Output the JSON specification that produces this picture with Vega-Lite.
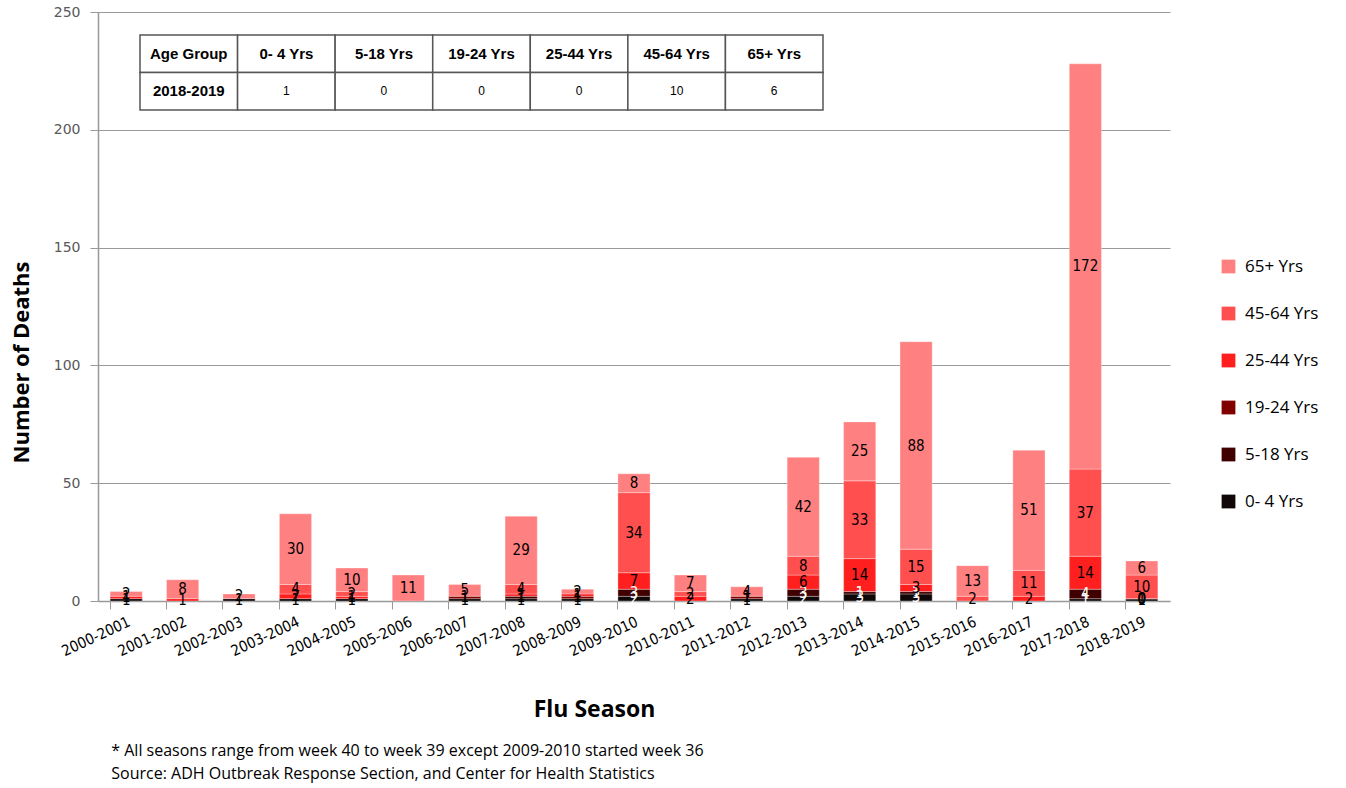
{
  "$schema": "https://vega.github.io/schema/vega-lite/v6.json",
  "autosize": "none",
  "width": 1072,
  "height": 589,
  "padding": {"left": 98, "top": 12, "right": 176, "bottom": 187},
  "background": "white",
  "config": {"view": {"stroke": null}},
  "title": {
    "text": ["* All seasons range from week 40 to week 39 except 2009-2010 started week 36", "Source: ADH Outbreak Response Section,  and Center for Health Statistics"],
    "orient": "bottom", "anchor": "start", "dx": 101, "offset": 21,
    "font": "Open Sans", "fontSize": 16, "fontWeight": "normal", "color": "#000", "lineHeight": 23
  },
  "datasets": {
    "deaths": [
      {"season": "2000-2001", "group": "0- 4 Yrs", "deaths": 1},
      {"season": "2000-2001", "group": "25-44 Yrs", "deaths": 1},
      {"season": "2000-2001", "group": "65+ Yrs", "deaths": 2},
      {"season": "2001-2002", "group": "25-44 Yrs", "deaths": 1},
      {"season": "2001-2002", "group": "65+ Yrs", "deaths": 8},
      {"season": "2002-2003", "group": "0- 4 Yrs", "deaths": 1},
      {"season": "2002-2003", "group": "65+ Yrs", "deaths": 2},
      {"season": "2003-2004", "group": "0- 4 Yrs", "deaths": 1},
      {"season": "2003-2004", "group": "25-44 Yrs", "deaths": 2},
      {"season": "2003-2004", "group": "45-64 Yrs", "deaths": 4},
      {"season": "2003-2004", "group": "65+ Yrs", "deaths": 30},
      {"season": "2004-2005", "group": "0- 4 Yrs", "deaths": 1},
      {"season": "2004-2005", "group": "25-44 Yrs", "deaths": 1},
      {"season": "2004-2005", "group": "45-64 Yrs", "deaths": 2},
      {"season": "2004-2005", "group": "65+ Yrs", "deaths": 10},
      {"season": "2005-2006", "group": "65+ Yrs", "deaths": 11},
      {"season": "2006-2007", "group": "0- 4 Yrs", "deaths": 1},
      {"season": "2006-2007", "group": "19-24 Yrs", "deaths": 1},
      {"season": "2006-2007", "group": "65+ Yrs", "deaths": 5},
      {"season": "2007-2008", "group": "0- 4 Yrs", "deaths": 1},
      {"season": "2007-2008", "group": "5-18 Yrs", "deaths": 1},
      {"season": "2007-2008", "group": "25-44 Yrs", "deaths": 1},
      {"season": "2007-2008", "group": "45-64 Yrs", "deaths": 4},
      {"season": "2007-2008", "group": "65+ Yrs", "deaths": 29},
      {"season": "2008-2009", "group": "0- 4 Yrs", "deaths": 1},
      {"season": "2008-2009", "group": "19-24 Yrs", "deaths": 1},
      {"season": "2008-2009", "group": "25-44 Yrs", "deaths": 1},
      {"season": "2008-2009", "group": "65+ Yrs", "deaths": 2},
      {"season": "2009-2010", "group": "0- 4 Yrs", "deaths": 2},
      {"season": "2009-2010", "group": "5-18 Yrs", "deaths": 3},
      {"season": "2009-2010", "group": "25-44 Yrs", "deaths": 7},
      {"season": "2009-2010", "group": "45-64 Yrs", "deaths": 34},
      {"season": "2009-2010", "group": "65+ Yrs", "deaths": 8},
      {"season": "2010-2011", "group": "25-44 Yrs", "deaths": 2},
      {"season": "2010-2011", "group": "45-64 Yrs", "deaths": 2},
      {"season": "2010-2011", "group": "65+ Yrs", "deaths": 7},
      {"season": "2011-2012", "group": "0- 4 Yrs", "deaths": 1},
      {"season": "2011-2012", "group": "19-24 Yrs", "deaths": 1},
      {"season": "2011-2012", "group": "65+ Yrs", "deaths": 4},
      {"season": "2012-2013", "group": "0- 4 Yrs", "deaths": 2},
      {"season": "2012-2013", "group": "5-18 Yrs", "deaths": 3},
      {"season": "2012-2013", "group": "25-44 Yrs", "deaths": 6},
      {"season": "2012-2013", "group": "45-64 Yrs", "deaths": 8},
      {"season": "2012-2013", "group": "65+ Yrs", "deaths": 42},
      {"season": "2013-2014", "group": "0- 4 Yrs", "deaths": 3},
      {"season": "2013-2014", "group": "5-18 Yrs", "deaths": 1},
      {"season": "2013-2014", "group": "25-44 Yrs", "deaths": 14},
      {"season": "2013-2014", "group": "45-64 Yrs", "deaths": 33},
      {"season": "2013-2014", "group": "65+ Yrs", "deaths": 25},
      {"season": "2014-2015", "group": "0- 4 Yrs", "deaths": 3},
      {"season": "2014-2015", "group": "5-18 Yrs", "deaths": 1},
      {"season": "2014-2015", "group": "25-44 Yrs", "deaths": 3},
      {"season": "2014-2015", "group": "45-64 Yrs", "deaths": 15},
      {"season": "2014-2015", "group": "65+ Yrs", "deaths": 88},
      {"season": "2015-2016", "group": "45-64 Yrs", "deaths": 2},
      {"season": "2015-2016", "group": "65+ Yrs", "deaths": 13},
      {"season": "2016-2017", "group": "25-44 Yrs", "deaths": 2},
      {"season": "2016-2017", "group": "45-64 Yrs", "deaths": 11},
      {"season": "2016-2017", "group": "65+ Yrs", "deaths": 51},
      {"season": "2017-2018", "group": "0- 4 Yrs", "deaths": 1},
      {"season": "2017-2018", "group": "5-18 Yrs", "deaths": 4},
      {"season": "2017-2018", "group": "25-44 Yrs", "deaths": 14},
      {"season": "2017-2018", "group": "45-64 Yrs", "deaths": 37},
      {"season": "2017-2018", "group": "65+ Yrs", "deaths": 172},
      {"season": "2018-2019", "group": "0- 4 Yrs", "deaths": 1},
      {"season": "2018-2019", "group": "5-18 Yrs", "deaths": 0},
      {"season": "2018-2019", "group": "19-24 Yrs", "deaths": 0},
      {"season": "2018-2019", "group": "25-44 Yrs", "deaths": 0},
      {"season": "2018-2019", "group": "45-64 Yrs", "deaths": 10},
      {"season": "2018-2019", "group": "65+ Yrs", "deaths": 6}
    ],
    "table": [
      {"row": "header", "col": "Age Group", "text": "Age Group"},
      {"row": "header", "col": "0- 4 Yrs", "text": "0- 4 Yrs"},
      {"row": "header", "col": "5-18 Yrs", "text": "5-18 Yrs"},
      {"row": "header", "col": "19-24 Yrs", "text": "19-24 Yrs"},
      {"row": "header", "col": "25-44 Yrs", "text": "25-44 Yrs"},
      {"row": "header", "col": "45-64 Yrs", "text": "45-64 Yrs"},
      {"row": "header", "col": "65+ Yrs", "text": "65+ Yrs"},
      {"row": "2018-2019", "col": "Age Group", "text": "2018-2019"},
      {"row": "2018-2019", "col": "0- 4 Yrs", "text": "1"},
      {"row": "2018-2019", "col": "5-18 Yrs", "text": "0"},
      {"row": "2018-2019", "col": "19-24 Yrs", "text": "0"},
      {"row": "2018-2019", "col": "25-44 Yrs", "text": "0"},
      {"row": "2018-2019", "col": "45-64 Yrs", "text": "10"},
      {"row": "2018-2019", "col": "65+ Yrs", "text": "6"}
    ]
  },
  "resolve": {"scale": {"x": "independent", "y": "independent"}},
  "layer": [
    {
      "data": {"name": "deaths"},
      "transform": [
        {"calculate": "indexof(['0- 4 Yrs','5-18 Yrs','19-24 Yrs','25-44 Yrs','45-64 Yrs','65+ Yrs'], datum.group)", "as": "k"}
      ],
      "mark": {"type": "bar", "stroke": "white", "strokeWidth": 0.5, "strokeOpacity": 0.6},
      "encoding": {
        "x": {
          "field": "season", "type": "nominal", "sort": null,
          "scale": {"paddingInner": 0.43, "paddingOuter": 0.215},
          "axis": {
            "title": "Flu Season", "titleFont": "Open Sans", "titleFontSize": 23, "titleFontWeight": "bold", "titleColor": "#000",
            "titlePadding": 40, "titleX": 496,
            "labelAngle": -25, "labelFont": "Liberation Sans Narrow, DejaVu Sans Condensed, sans-serif", "labelFontSize": 15, "labelColor": "#000",
            "labelAlign": "right", "labelBaseline": "top", "labelPadding": 5,
            "bandPosition": 0, "tickSize": 8, "tickColor": "#999", "domainColor": "#999", "domainWidth": 1.5, "grid": false
          }
        },
        "y": {
          "aggregate": "sum", "field": "deaths", "type": "quantitative", "stack": "zero",
          "scale": {"domain": [0, 250], "nice": false},
          "axis": {
            "title": "Number of Deaths", "titleFont": "Open Sans", "titleFontSize": 22, "titleFontWeight": "bold", "titleColor": "#000", "titlePadding": 20,
            "titleY": 350,
            "values": [0, 50, 100, 150, 200, 250],
            "labelFont": "DejaVu Sans", "labelFontSize": 14, "labelColor": "#595959", "labelPadding": 10,
            "tickSize": 8, "tickColor": "#999", "domainColor": "#999", "domainWidth": 1.5,
            "grid": true, "gridColor": "#999", "gridWidth": 1.2
          }
        },
        "color": {
          "field": "group", "type": "nominal",
          "scale": {
            "domain": ["65+ Yrs", "45-64 Yrs", "25-44 Yrs", "19-24 Yrs", "5-18 Yrs", "0- 4 Yrs"],
            "range": ["#ff8080", "#ff4f4f", "#ff1f1f", "#800000", "#400000", "#100808"]
          },
          "legend": {
            "title": null, "orient": "none", "legendX": 1122, "legendY": 246,
            "symbolType": "square", "symbolSize": 190, "symbolStrokeWidth": 0,
            "labelFont": "Open Sans", "labelFontSize": 17, "labelColor": "#000", "labelOffset": 8,
            "rowPadding": 29
          }
        },
        "order": {"field": "k", "type": "quantitative", "sort": "ascending"}
      }
    },
    {
      "data": {"name": "deaths"},
      "transform": [
        {"calculate": "indexof(['0- 4 Yrs','5-18 Yrs','19-24 Yrs','25-44 Yrs','45-64 Yrs','65+ Yrs'], datum.group)", "as": "k"},
        {"stack": "deaths", "groupby": ["season"], "sort": [{"field": "k", "order": "ascending"}], "as": ["y0", "y1"]},
        {"calculate": "(datum.y0 + datum.y1) / 2", "as": "ymid"}
      ],
      "mark": {"type": "text", "font": "Liberation Sans Narrow, DejaVu Sans Condensed, sans-serif", "fontSize": 15, "baseline": "middle", "align": "center"},
      "encoding": {
        "x": {"field": "season", "type": "nominal", "sort": null, "scale": {"paddingInner": 0.43, "paddingOuter": 0.215}, "axis": null},
        "y": {"field": "ymid", "type": "quantitative", "scale": {"domain": [0, 250], "nice": false}, "axis": null},
        "text": {"field": "deaths", "type": "quantitative"},
        "color": {
          "condition": {"test": "datum.k <= 2 && indexof(['2009-2010','2012-2013','2013-2014','2014-2015','2017-2018'], datum.season) >= 0", "value": "white"},
          "value": "black"
        }
      }
    },
    {
      "data": {"name": "table"},
      "mark": {"type": "rect", "fill": "white", "stroke": "#555", "strokeWidth": 1.5},
      "encoding": {
        "x": {"field": "col", "type": "nominal", "sort": null, "scale": {"domain": ["Age Group", "0- 4 Yrs", "5-18 Yrs", "19-24 Yrs", "25-44 Yrs", "45-64 Yrs", "65+ Yrs"], "paddingInner": 0, "paddingOuter": 0, "range": [42, 725]}, "axis": null},
        "y": {"field": "row", "type": "nominal", "sort": null, "scale": {"domain": ["header", "2018-2019"], "paddingInner": 0, "paddingOuter": 0, "range": [23, 98]}, "axis": null}
      }
    },
    {
      "data": {"name": "table"},
      "transform": [{"filter": "datum.row == 'header' || datum.col == 'Age Group'"}],
      "mark": {"type": "text", "font": "Liberation Sans", "fontSize": 15, "fontWeight": "bold", "color": "#000", "align": "center", "baseline": "middle"},
      "encoding": {
        "x": {"field": "col", "type": "nominal", "sort": null, "scale": {"domain": ["Age Group", "0- 4 Yrs", "5-18 Yrs", "19-24 Yrs", "25-44 Yrs", "45-64 Yrs", "65+ Yrs"], "paddingInner": 0, "paddingOuter": 0, "range": [42, 725]}, "axis": null},
        "y": {"field": "row", "type": "nominal", "sort": null, "scale": {"domain": ["header", "2018-2019"], "paddingInner": 0, "paddingOuter": 0, "range": [23, 98]}, "axis": null},
        "text": {"field": "text"}
      }
    },
    {
      "data": {"name": "table"},
      "transform": [{"filter": "datum.row != 'header' && datum.col != 'Age Group'"}],
      "mark": {"type": "text", "font": "Liberation Sans", "fontSize": 12, "color": "#000", "align": "center", "baseline": "middle"},
      "encoding": {
        "x": {"field": "col", "type": "nominal", "sort": null, "scale": {"domain": ["Age Group", "0- 4 Yrs", "5-18 Yrs", "19-24 Yrs", "25-44 Yrs", "45-64 Yrs", "65+ Yrs"], "paddingInner": 0, "paddingOuter": 0, "range": [42, 725]}, "axis": null},
        "y": {"field": "row", "type": "nominal", "sort": null, "scale": {"domain": ["header", "2018-2019"], "paddingInner": 0, "paddingOuter": 0, "range": [23, 98]}, "axis": null},
        "text": {"field": "text"}
      }
    }
  ]
}
